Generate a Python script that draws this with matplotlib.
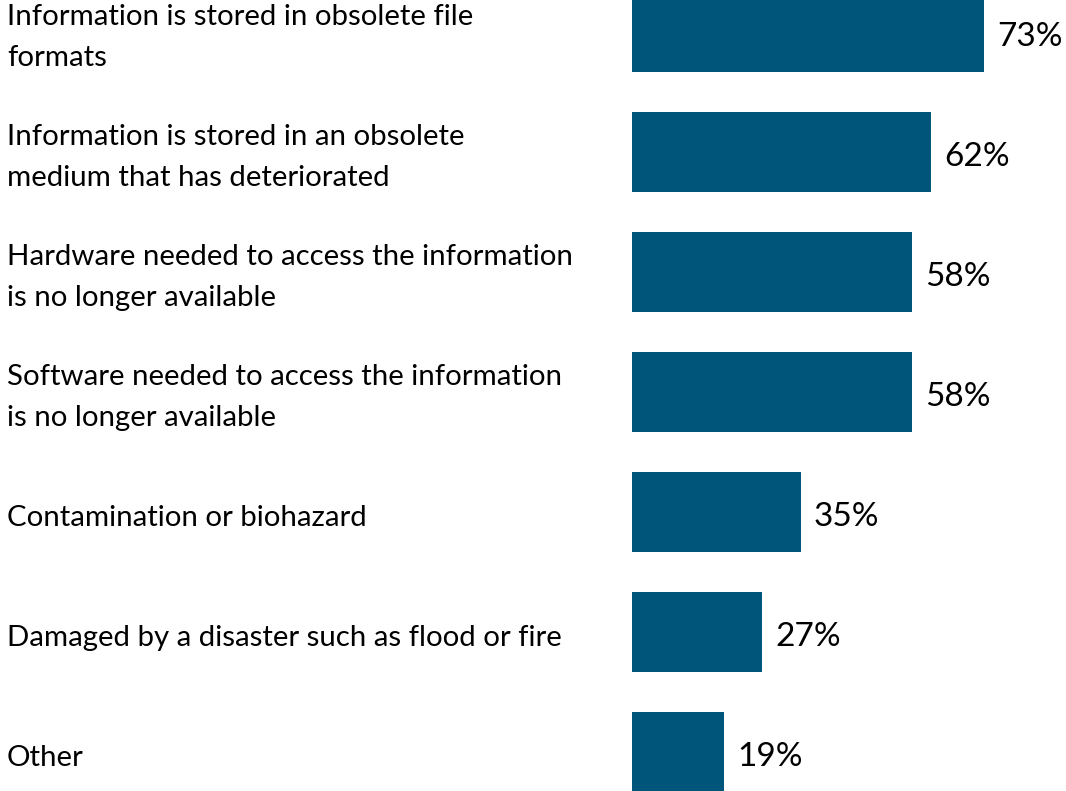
import matplotlib
matplotlib.use("Agg")
import matplotlib.pyplot as plt

# Reasons information could not be recovered (% of respondents)
reasons = [
    "Information is stored in obsolete file\nformats",
    "Information is stored in an obsolete\nmedium that has deteriorated",
    "Hardware needed to access the information\nis no longer available",
    "Software needed to access the information\nis no longer available",
    "Contamination or biohazard",
    "Damaged by a disaster such as flood or fire",
    "Other",
]
shares = [73, 62, 58, 58, 35, 27, 19]

bar_color = "#00567A"
plt.rcParams["font.family"] = ["Lato", "DejaVu Sans"]

fig = plt.figure(figsize=(10.66, 7.91), dpi=100)
ax = fig.add_axes([632 / 1066, 0, 434 / 1066, 1])

ypos = list(range(len(shares)))
ax.barh(ypos, shares, height=0.667, color=bar_color)
ax.set_xlim(0, 90)
ax.set_ylim(6.325, -0.267)
ax.axis("off")

# value labels just past the end of each bar
for y, v in zip(ypos, shares):
    ax.annotate(f"{v}%", xy=(v, y), xytext=(9.5, -3.5), textcoords="offset points",
                va="center", ha="left", fontsize=24, color="black")

# category labels on the left side of the figure
trans = matplotlib.transforms.blended_transform_factory(fig.transFigure, ax.transData)
for y, label in zip(ypos, reasons):
    ax.annotate(label, xy=(7 / 1066, y), xycoords=trans, xytext=(0, -4),
                textcoords="offset points", ha="left", va="center",
                fontsize=21.2, linespacing=1.73, color="black", annotation_clip=False)

fig.savefig("out.png", dpi=100)
